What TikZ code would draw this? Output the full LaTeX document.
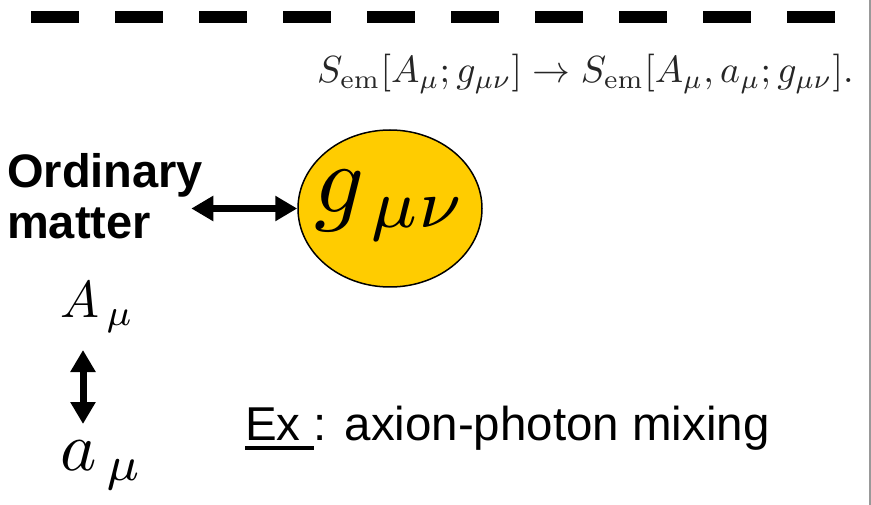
\documentclass[tikz,border=0pt]{standalone}
\usepackage{graphicx}
\usepackage{fontspec}
\newfontfamily\arialfont{Liberation Sans}
\usetikzlibrary{arrows.meta,shapes.geometric}
\definecolor{gold}{HTML}{FFCC00}
\newcommand\myul[1]{{\setbox0\hbox{#1}\rlap{\rule[-9.5pt]{\wd0}{4pt}}\box0}}
\newcommand\mscale[2]{\scalebox{#1}{\fontsize{10}{12}\selectfont$#2$}}
\begin{document}
\begin{tikzpicture}[x=1pt,y=-1pt,
  dbl/.style={line width=7pt,{Triangle[width=24pt,length=22pt]}-{Triangle[width=24pt,length=22pt]}},
  lab/.style={inner sep=0pt, anchor=base west},
  dashline/.style={line width=12pt, dash pattern=on 48pt off 36pt},
  gbubble/.style={ellipse, draw=black, line width=1.5pt, fill=gold, minimum width=184pt, minimum height=157pt, inner sep=0pt}]
\useasboundingbox (0,0) rectangle (871,505);
\draw[black!40, line width=1.5pt] (870,0) -- (870,505);
\draw[dashline] (31,17) -- (835,17);
\node[lab, text=black!85] (formula) at (317,83)
  {\mscale{3.78}{S_{\mathrm{em}}[A_\mu;g_{\mu\nu}]\rightarrow S_{\mathrm{em}}[A_\mu,a_\mu;g_{\mu\nu}].}};
\node[inner sep=0pt, anchor=north west, align=left, font=\arialfont\bfseries\fontsize{47}{51}\selectfont] (om) at (7,153) {Ordinary\\matter};
\node[gbubble] (g) at (390,208.5) {};
\node[inner sep=0pt] (gl) at ([xshift=1pt,yshift=3pt]g.center) {\mscale{9.8}{g_{\mkern2mu\mu\nu}}};
\draw[dbl, shorten <=-12pt] (om.east |- g.west) -- (g.west);
\node[lab] (A) at (60,318) {\mscale{5.2}{A_{\,\mu}}};
\node[lab] (a) at (60,470) {\mscale{6.9}{a_{\,\mu}}};
\coordinate (v1) at (83,350);
\coordinate (v2) at (83,424);
\draw[dbl] (v1) -- (v2);
\node[lab, font=\arialfont\fontsize{47.5}{56}\selectfont] (ex) at (245,440) {\myul{Ex\ }: axion-photon mixing};
\end{tikzpicture}
\end{document}
